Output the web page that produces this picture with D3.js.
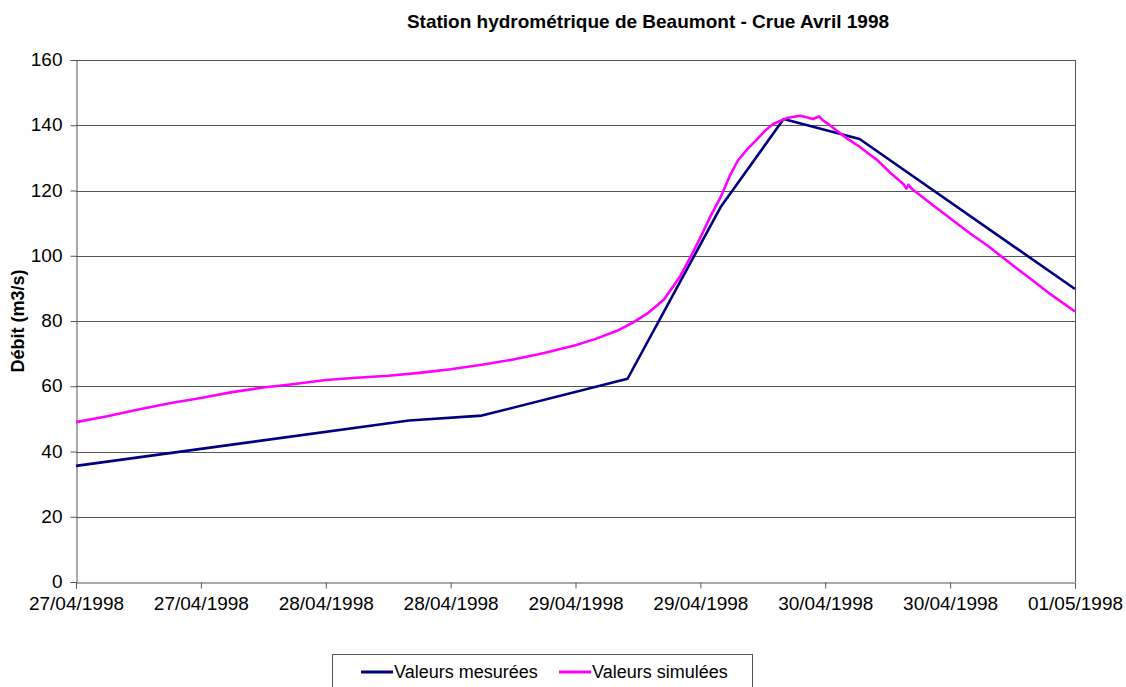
<!DOCTYPE html>
<html>
<head>
<meta charset="utf-8">
<script src="https://d3js.org/d3.v7.min.js"></script>
<style>
  body { margin: 0; background: #fff; }
  text { font-family: "Liberation Sans", Arial, sans-serif; }
</style>
</head>
<body>
<script>
// hours after 27/04/1998 00:00
var measuredHours  = [0, 32, 39, 53, 62, 68, 75.3, 96];
var measuredValues = [35.6, 49.5, 51.0, 62.3, 115.2, 141.9, 135.8, 89.8];

var simulatedHours = [0, 3, 6, 9, 12, 15, 18, 21, 24, 27, 30, 33, 36, 39, 42, 45, 48, 50, 52, 53.5,
  55, 56.5, 58, 59.2, 60, 61, 62, 62.8, 63.6, 64.6, 65.3, 66.2, 67, 68.3, 69, 69.6, 70.3, 70.8,
  71.4, 71.8, 72.2, 73.4, 74.3, 75.3, 76.2, 77, 78.2, 79.5, 79.8, 80, 80.4, 82.1, 84, 85.9,
  87.8, 89.8, 91.7, 93.6, 96];
var simulatedValues = [49.0, 50.8, 52.9, 54.8, 56.4, 58.2, 59.6, 60.7, 61.9, 62.6, 63.2, 64.1, 65.2, 66.6, 68.2, 70.2, 72.6, 74.6, 77.0, 79.5,
  82.5, 86.6, 93.4, 100.5, 105.6, 112.3, 118.3, 124.3, 129.2, 133.0, 135.2, 138.3, 140.4, 142.2, 142.6, 142.9, 142.4, 141.9,
  142.7, 141.4, 140.6, 137.6, 135.5, 133.4, 131.2, 129.3, 125.6, 122.0, 120.6, 121.7, 120.3, 116.1, 111.5, 106.9,
  102.6, 97.6, 93.0, 88.3, 82.9];

var yTicks = [0, 20, 40, 60, 80, 100, 120, 140, 160];
var seriesNames = ["Valeurs mesurées", "Valeurs simulées"];
var seriesColors = ["#000080", "#ff00ff"];

(function() {
var W = 1126, H = 687;
var pLeft = 76, pRight = 1075, pTop = 60, pBottom = 582;
var start = new Date(1998, 3, 27, 0, 0);

var svg = d3.select("body").append("svg")
    .attr("width", W)
    .attr("height", H);

var x = d3.scaleTime()
    .domain([start, d3.timeHour.offset(start, 96)])
    .range([pLeft, pRight]);
var y = d3.scaleLinear()
    .domain([0, 160])
    .range([pBottom, pTop]);

// grid
svg.append("g").selectAll("line")
    .data(yTicks.slice(1))
    .enter().append("line")
    .attr("x1", pLeft).attr("x2", pRight)
    .attr("y1", function(d) { return Math.round(y(d)) + 0.5; })
    .attr("y2", function(d) { return Math.round(y(d)) + 0.5; })
    .attr("stroke", "#555")
    .attr("stroke-width", 1);

// right border
svg.append("line")
    .attr("x1", pRight + 0.5).attr("x2", pRight + 0.5)
    .attr("y1", pTop).attr("y2", pBottom)
    .attr("stroke", "#555");

var xAxis = svg.append("g")
    .attr("transform", "translate(0," + (pBottom + 0.5) + ")")
    .call(d3.axisBottom(x)
        .ticks(d3.timeHour.every(12))
        .tickFormat(d3.timeFormat("%d/%m/%Y"))
        .tickSizeOuter(0)
        .tickSize(6)
        .tickPadding(8));

var yAxis = svg.append("g")
    .attr("transform", "translate(" + (pLeft + 0.5) + ",0)")
    .call(d3.axisLeft(y)
        .tickValues(yTicks)
        .tickSizeOuter(0)
        .tickSize(6)
        .tickPadding(8));

[xAxis, yAxis].forEach(function(a) {
    a.select(".domain").attr("stroke", "#555");
    a.selectAll(".tick line").attr("stroke", "#555");
    a.selectAll(".tick text")
        .attr("fill", "#000")
        .style("font-size", "19px")
        .style("font-family", "'Liberation Sans', Arial, sans-serif");
});
yAxis.selectAll(".tick text").attr("dy", "0.3em");

function toPoints(hours, values) {
    return hours.map(function(h, i) { return { t: d3.timeMinute.offset(start, Math.round(h * 60)), v: values[i] }; });
}

var line = d3.line()
    .x(function(d) { return x(d.t); })
    .y(function(d) { return y(d.v); });

svg.append("path")
    .datum(toPoints(measuredHours, measuredValues))
    .attr("d", line)
    .attr("fill", "none")
    .attr("stroke", seriesColors[0])
    .attr("stroke-width", 2.6)
    .attr("stroke-linejoin", "round");

svg.append("path")
    .datum(toPoints(simulatedHours, simulatedValues))
    .attr("d", line)
    .attr("fill", "none")
    .attr("stroke", seriesColors[1])
    .attr("stroke-width", 2.6)
    .attr("stroke-linejoin", "round");

// title
svg.append("text")
    .attr("x", 648)
    .attr("y", 28)
    .attr("text-anchor", "middle")
    .style("font-size", "19px")
    .style("font-weight", "bold")
    .text("Station hydrométrique de Beaumont - Crue Avril 1998");

// y axis title
svg.append("text")
    .attr("transform", "translate(24," + ((pTop + pBottom) / 2) + ") rotate(-90)")
    .attr("text-anchor", "middle")
    .style("font-size", "18px")
    .style("font-weight", "bold")
    .text("Débit (m3/s)");

// legend
var legend = svg.append("g");
legend.append("rect")
    .attr("x", 332.5).attr("y", 654.5)
    .attr("width", 420).attr("height", 40)
    .attr("fill", "#fff")
    .attr("stroke", "#555");

var legX = [361, 559];
seriesNames.forEach(function(name, i) {
    legend.append("line")
        .attr("x1", legX[i]).attr("x2", legX[i] + 32)
        .attr("y1", 672).attr("y2", 672)
        .attr("stroke", seriesColors[i])
        .attr("stroke-width", 3);
    legend.append("text")
        .attr("x", legX[i] + 33)
        .attr("y", 678)
        .style("font-size", "18px")
        .text(name);
});
})();
</script>
</body>
</html>
